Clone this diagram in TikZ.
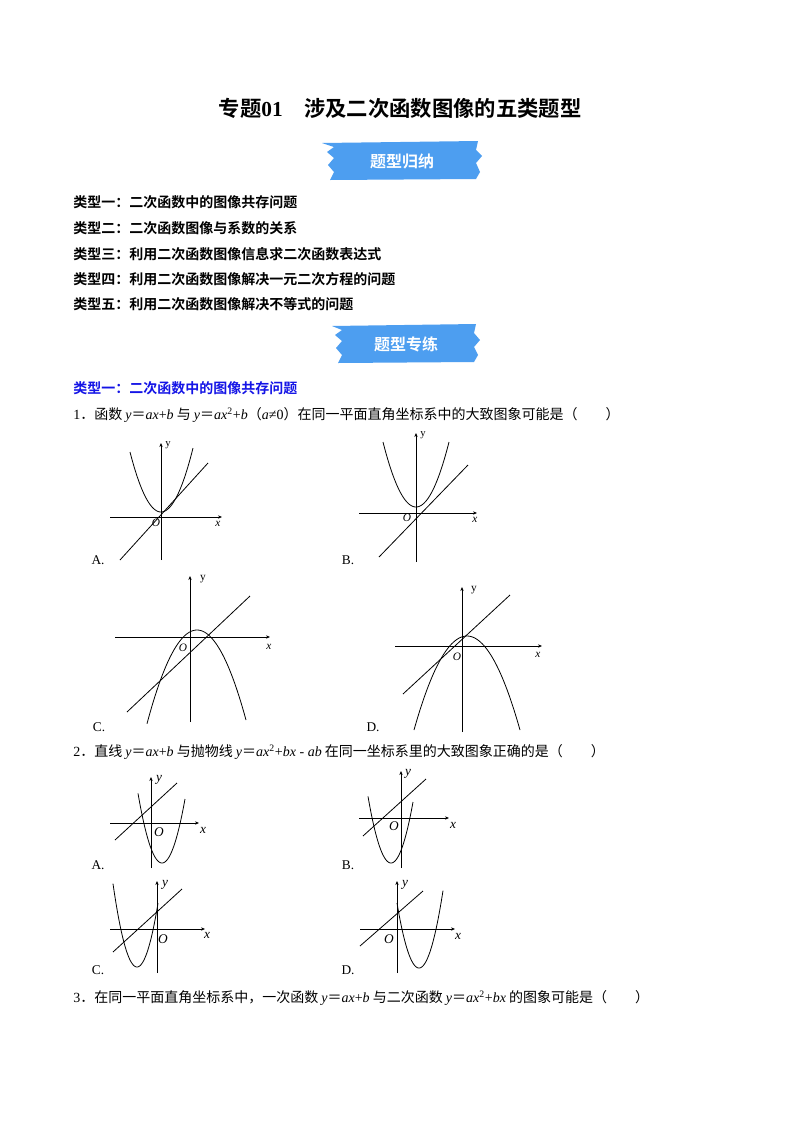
\documentclass[tikz,border=0pt]{standalone}
\usepackage{fontspec}
\usetikzlibrary{arrows.meta}
\setmainfont{Liberation Serif}
\newfontfamily\lat{Liberation Serif}
\newfontfamily\cjk{Noto Sans CJK SC}
\newfontfamily\cjkb{Noto Sans CJK SC Bold}
\newcommand{\mi}[1]{{\lat\itshape #1}}
\newcommand{\nm}[1]{{\lat #1}}
\begin{document}
\begin{tikzpicture}[x=0.75pt,y=-0.75pt,
  txt/.style={anchor=west,inner sep=0,font=\fontsize{10.5pt}{12pt}\selectfont\cjk},
  btxt/.style={anchor=west,inner sep=0,font=\fontsize{10.5pt}{12pt}\selectfont\cjkb},
  ax/.style={line width=0.5pt,-{Stealth[length=3pt,width=2.5pt]}},
  cv/.style={line width=0.6pt},
  lab/.style={inner sep=0,font=\fontsize{8.5pt}{9pt}\selectfont\itshape},
  opt/.style={inner sep=0,font=\fontsize{10pt}{11pt}\selectfont},
  banner/.style={fill={rgb,255:red,77;green,158;blue,240},draw=none}]
\useasboundingbox (0,0) rectangle (800,1132);
\fill[white] (0,0) rectangle (800,1132);
\node[inner sep=0,font=\fontsize{16pt}{18pt}\selectfont\cjkb] (title) at (400,108) {专题{\lat\bfseries 01}\quad 涉及二次函数图像的五类题型};
% banner 1
\fill[banner] (322,143) -- (478,141) -- (476,150) -- (482,156) -- (476,163) -- (480,172) -- (476,179) -- (330,180) -- (334,172) -- (328,165) -- (334,158) -- (327,152) -- (334,147) -- cycle;
\node[inner sep=0,text=white,font=\fontsize{12pt}{13pt}\selectfont\cjkb] (b1) at (402,161) {题型归纳};
\node[btxt] (t1) at (73,202) {类型一：二次函数中的图像共存问题};
\node[btxt] (t2) at (73,228) {类型二：二次函数图像与系数的关系};
\node[btxt] (t3) at (73,254) {类型三：利用二次函数图像信息求二次函数表达式};
\node[btxt] (t4) at (73,279) {类型四：利用二次函数图像解决一元二次方程的问题};
\node[btxt] (t5) at (73,304) {类型五：利用二次函数图像解决不等式的问题};
% banner 2
\fill[banner] (332,326) -- (476,324) -- (474,333) -- (480,340) -- (474,347) -- (478,355) -- (474,362) -- (338,363) -- (342,355) -- (336,348) -- (342,341) -- (335,335) -- (342,330) -- cycle;
\node[inner sep=0,text=white,font=\fontsize{12pt}{13pt}\selectfont\cjkb] (b2) at (406,344) {题型专练};
\node[btxt,text={rgb,255:red,20;green,20;blue,230}] (s1) at (73,388) {类型一：二次函数中的图像共存问题};
\node[txt] (q1) at (73,415) {\nm{1}．函数 \mi{y}＝\mi{ax}\nm{+}\mi{b} 与 \mi{y}＝\mi{ax}\textsuperscript{\nm{2}}\nm{+}\mi{b}（\mi{a}\nm{≠0}）在同一平面直角坐标系中的大致图象可能是（　　）};
% ---------- 1A origin (161,517)
\draw[ax] (110,517) -- (222,517);
\draw[ax] (161,560) -- (161,443);
\draw[cv,domain=-31:32,samples=60] plot ({161+\x},{512-60*(\x/31)^2});
\draw[cv] (120,560) -- (208,463);
\node[lab,font=\fontsize{8pt}{9pt}\selectfont\upshape] (a1y) at (168,445) {y};
\node[lab] (a1o) at (156,523) {O};
\node[lab] (a1x) at (218,524) {x};
\node[opt] (a1) at (98,560) {A.};
% ---------- 1B origin (416,513)
\draw[ax] (359,513) -- (477,513);
\draw[ax] (416,562) -- (416,433);
\draw[cv,domain=-33:33,samples=60] plot ({416+\x},{507-65*(\x/33)^2});
\draw[cv] (379,557) -- (468,465);
\node[lab,font=\fontsize{8pt}{9pt}\selectfont\upshape] (b1y) at (423,435) {y};
\node[lab] (b1o) at (407,518) {O};
\node[lab] (b1x) at (475,520) {x};
\node[opt] (b1l) at (348,560) {B.};
% ---------- 1C origin (190,637)
\draw[ax] (115,637) -- (270,637);
\draw[ax] (190,722) -- (190,576);
\draw[cv,domain=-50:49,samples=60] plot ({197+\x},{630+90*(\x/49)^2});
\draw[cv] (127,712) -- (250,596);
\node[lab,font=\fontsize{8.5pt}{9pt}\selectfont\upshape] (c1y) at (203,579) {y};
\node[lab] (c1o) at (183,648) {O};
\node[lab] (c1x) at (269,647) {x};
\node[opt] (c1l) at (99,727) {C.};
% ---------- 1D origin (462,646)
\draw[ax] (395,646) -- (542,646);
\draw[ax] (462,732) -- (462,587);
\draw[cv,domain=-53:53,samples=60] plot ({467+\x},{636+94*(\x/53)^2});
\draw[cv] (403,694) -- (510,595);
\node[lab,font=\fontsize{8.5pt}{9pt}\selectfont\upshape] (d1y) at (474,590) {y};
\node[lab] (d1o) at (457,657) {O};
\node[lab] (d1x) at (538,655) {x};
\node[opt] (d1l) at (373,727) {D.};
% ---------- Q2
\node[txt] (q2) at (73,752) {\nm{2}．直线 \mi{y}＝\mi{ax}\nm{+}\mi{b} 与抛物线 \mi{y}＝\mi{ax}\textsuperscript{\nm{2}}\nm{+}\mi{bx}\nm{ - }\mi{ab} 在同一坐标系里的大致图象正确的是（　　）};
% 2A origin (151,823)
\draw[ax] (110,823) -- (199,823);
\draw[ax] (151,868) -- (151,777);
\draw[cv,domain=-24:23,samples=60] plot ({162+\x},{863-64*(\x/23)^2});
\draw[cv] (115,840) -- (177,783);
\node[lab,font=\fontsize{10pt}{11pt}\selectfont\itshape] (a2y) at (159,780) {y};
\node[lab,font=\fontsize{10pt}{11pt}\selectfont\itshape] (a2o) at (159,832) {O};
\node[lab,font=\fontsize{10pt}{11pt}\selectfont\itshape] (a2x) at (203,830) {x};
\node[opt] (a2l) at (98,865) {A.};
% 2B origin (401,818)
\draw[ax] (359,818) -- (449,818);
\draw[ax] (401,868) -- (401,771);
\draw[cv,domain=-23:22,samples=60] plot ({391+\x},{863-61*(\x/22)^2});
\draw[cv] (363,836) -- (426,779);
\node[lab,font=\fontsize{10pt}{11pt}\selectfont\itshape] (b2y) at (408,774) {y};
\node[lab,font=\fontsize{10pt}{11pt}\selectfont\itshape] (b2o) at (394,826) {O};
\node[lab,font=\fontsize{10pt}{11pt}\selectfont\itshape] (b2x) at (453,825) {x};
\node[opt] (b2l) at (348,865) {B.};
% 2C origin (157,929)
\draw[ax] (110,929) -- (205,929);
\draw[ax] (157,973) -- (157,881);
\draw[cv,domain=-24:21,samples=60] plot ({137+\x},{967-70*(\x/22)^2});
\draw[cv] (113,952) -- (182,889);
\node[lab,font=\fontsize{10pt}{11pt}\selectfont\itshape] (c2y) at (165,885) {y};
\node[lab,font=\fontsize{10pt}{11pt}\selectfont\itshape] (c2o) at (163,939) {O};
\node[lab,font=\fontsize{10pt}{11pt}\selectfont\itshape] (c2x) at (207,935) {x};
\node[opt] (c2l) at (98,970) {C.};
% 2D origin (397,929)
\draw[ax] (360,929) -- (455,929);
\draw[ax] (397,973) -- (397,881);
\draw[cv,domain=-22:24,samples=60] plot ({419+\x},{968-71*(\x/23)^2});
\draw[cv] (360,946) -- (423,891);
\node[lab,font=\fontsize{10pt}{11pt}\selectfont\itshape] (d2y) at (405,885) {y};
\node[lab,font=\fontsize{10pt}{11pt}\selectfont\itshape] (d2o) at (389,939) {O};
\node[lab,font=\fontsize{10pt}{11pt}\selectfont\itshape] (d2x) at (458,936) {x};
\node[opt] (d2l) at (348,970) {D.};
\node[txt] (q3) at (73,998) {\nm{3}．在同一平面直角坐标系中，一次函数 \mi{y}＝\mi{ax}\nm{+}\mi{b} 与二次函数 \mi{y}＝\mi{ax}\textsuperscript{\nm{2}}\nm{+}\mi{bx} 的图象可能是（　　）};
\end{tikzpicture}
\end{document}
